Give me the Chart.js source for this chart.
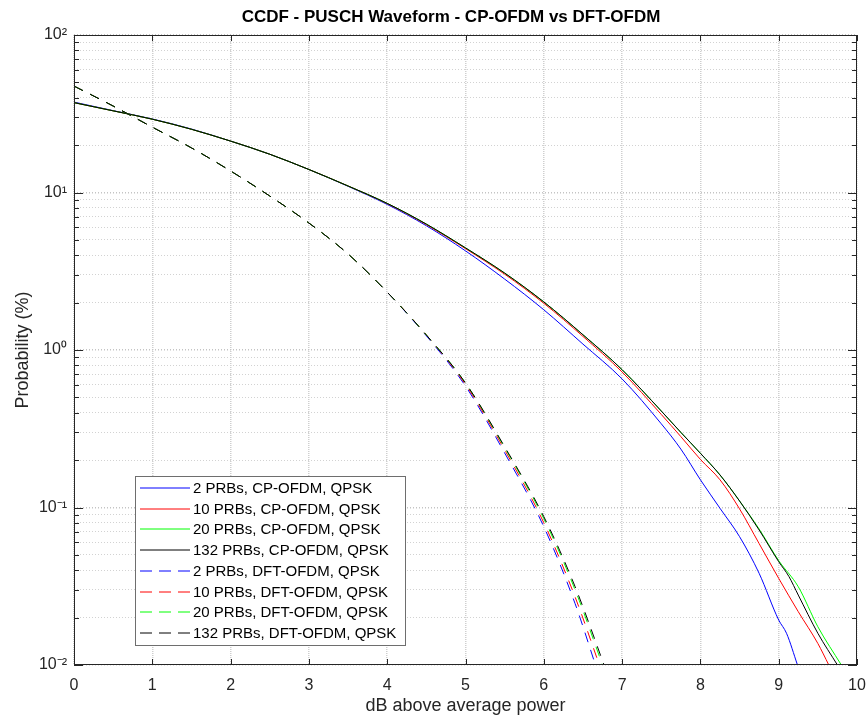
<!DOCTYPE html>
<html>
<head>
<meta charset="utf-8">
<script src="https://cdn.jsdelivr.net/npm/chart.js@4.4.1/dist/chart.umd.min.js"></script>
<style>
  html, body { margin: 0; padding: 0; background: #fff; }
  canvas { display: block; }
</style>
</head>
<body>
<canvas id="ccdfChart" width="868" height="718"></canvas>
<script>
// Valores (probabilidad en %)
const cp2X   = [0, 0.5, 1, 1.5, 2, 2.5, 3, 3.5, 4, 4.5, 5, 5.5, 6, 6.5, 7, 7.5, 7.75, 8, 8.25, 8.5, 8.75, 9, 9.1, 9.24];
const cp2Y   = [37.5, 33.1, 29.3, 25.3, 21.2, 17.5, 14.0, 10.95, 8.4, 6.15, 4.26, 2.82, 1.80, 1.09, 0.655, 0.34, 0.235, 0.150, 0.0989, 0.0653, 0.0382, 0.0193, 0.0159, 0.01];
const cp10X  = [0, 0.5, 1, 1.5, 2, 2.5, 3, 3.5, 4, 4.5, 5, 5.5, 6, 6.5, 7, 7.5, 7.75, 8, 8.25, 8.5, 8.75, 9, 9.25, 9.5, 9.64];
const cp10Y  = [37.2, 33.0, 29.2, 25.2, 21.2, 17.5, 14.0, 11.0, 8.5, 6.25, 4.4, 3.03, 1.98, 1.22, 0.725, 0.39, 0.282, 0.202, 0.150, 0.098, 0.059, 0.0355, 0.0218, 0.0137, 0.01];
const cp20X  = [0, 0.5, 1, 1.5, 2, 2.5, 3, 3.5, 4, 4.5, 5, 5.5, 6, 6.5, 7, 7.5, 7.75, 8, 8.25, 8.5, 8.75, 9, 9.25, 9.5, 9.8];
const cp20Y  = [37.2, 33.0, 29.2, 25.2, 21.2, 17.5, 14.0, 11.0, 8.53, 6.3, 4.45, 3.08, 2.02, 1.25, 0.75, 0.41, 0.30, 0.221, 0.161, 0.110, 0.073, 0.046, 0.0314, 0.0175, 0.01];
const cp132X = [0, 0.5, 1, 1.5, 2, 2.5, 3, 3.5, 4, 4.5, 5, 5.5, 6, 6.5, 7, 7.5, 7.75, 8, 8.25, 8.5, 8.75, 9, 9.13, 9.25, 9.5, 9.75];
const cp132Y = [37.2, 33.0, 29.2, 25.2, 21.2, 17.5, 14.0, 11.0, 8.53, 6.3, 4.45, 3.08, 2.02, 1.25, 0.75, 0.41, 0.30, 0.221, 0.161, 0.110, 0.072, 0.0453, 0.0365, 0.0278, 0.0159, 0.01];

const dft2X   = [0, 0.5, 1, 1.5, 2, 2.5, 3, 3.5, 4, 4.5, 5, 5.5, 6, 6.4, 6.66];
const dft2Y   = [47.4, 35.4, 26.0, 19.2, 13.7, 9.5, 6.40, 4.07, 2.33, 1.23, 0.59, 0.222, 0.0755, 0.0245, 0.01];
const dft10X  = [0, 0.5, 1, 1.5, 2, 2.5, 3, 3.5, 4, 4.5, 5, 5.5, 6, 6.4, 6.71];
const dft10Y  = [47.4, 35.4, 26.0, 19.2, 13.7, 9.5, 6.40, 4.07, 2.33, 1.245, 0.605, 0.232, 0.080, 0.027, 0.01];
const dft20X  = [0, 0.5, 1, 1.5, 2, 2.5, 3, 3.5, 4, 4.5, 5, 5.5, 6, 6.4, 6.75];
const dft20Y  = [47.4, 35.4, 26.0, 19.2, 13.7, 9.5, 6.40, 4.07, 2.33, 1.245, 0.617, 0.240, 0.085, 0.030, 0.01];
const dft132X = [0, 0.5, 1, 1.5, 2, 2.5, 3, 3.5, 4, 4.5, 5, 5.5, 6, 6.4, 6.77];
const dft132Y = [47.4, 35.4, 26.0, 19.2, 13.7, 9.5, 6.40, 4.07, 2.33, 1.245, 0.617, 0.243, 0.0875, 0.0314, 0.01];

const seriesLabels = [
    '2 PRBs, CP-OFDM, QPSK', '10 PRBs, CP-OFDM, QPSK', '20 PRBs, CP-OFDM, QPSK', '132 PRBs, CP-OFDM, QPSK',
    '2 PRBs, DFT-OFDM, QPSK', '10 PRBs, DFT-OFDM, QPSK', '20 PRBs, DFT-OFDM, QPSK', '132 PRBs, DFT-OFDM, QPSK'
];
const seriesColors = ['#0000ff', '#ff0000', '#00ff00', '#000000'];

const xTicks = [0, 1, 2, 3, 4, 5, 6, 7, 8, 9, 10];
const yDecades = [0.01, 0.1, 1, 10, 100];
const yDecadeLabels = ['10⁻²', '10⁻¹', '10⁰', '10¹', '10²'];

const chartTitle = 'CCDF - PUSCH Waveform - CP-OFDM vs DFT-OFDM';
const FONT = '"Liberation Sans", Arial, Helvetica, sans-serif';
const AXIS_COLOR = '#262626';

// ticks del eje log: 1..9 por década
const yTicks = [];
yDecades.forEach((d, i) => {
    if (i === yDecades.length - 1) { yTicks.push(d); return; }
    for (let m = 1; m <= 9; m++) yTicks.push(Number((m * d).toPrecision(3)));
});

function isDecade(v) {
    const l = Math.log10(v);
    return Math.abs(l - Math.round(l)) < 1e-9;
}

function toPoints(xs, ys) {
    return xs.map((x, i) => ({ x: x, y: ys[i] }));
}

const allSeries = [
    [cp2X, cp2Y], [cp10X, cp10Y], [cp20X, cp20Y], [cp132X, cp132Y],
    [dft2X, dft2Y], [dft10X, dft10Y], [dft20X, dft20Y], [dft132X, dft132Y]
];

const datasets = allSeries.map((s, i) => ({
    label: seriesLabels[i],
    data: toPoints(s[0], s[1]),
    borderColor: seriesColors[i % 4],
    backgroundColor: seriesColors[i % 4],
    borderWidth: 1,
    borderDash: i >= 4 ? [10, 8] : [],
    pointRadius: 0,
    cubicInterpolationMode: 'monotone',
    fill: false,
    order: allSeries.length - i
}));

// Caja de ejes con marcas hacia dentro (estilo MATLAB)
const framePlugin = {
    id: 'frame',
    afterDatasetsDraw(chart) {
        const { ctx, chartArea: a, scales: { x, y } } = chart;
        ctx.save();
        ctx.strokeStyle = AXIS_COLOR;
        ctx.lineWidth = 1;
        ctx.beginPath();
        x.ticks.forEach(t => {
            const px = Math.round(x.getPixelForValue(t.value)) + 0.5;
            ctx.moveTo(px, a.bottom); ctx.lineTo(px, a.bottom - 6);
            ctx.moveTo(px, a.top); ctx.lineTo(px, a.top + 6);
        });
        y.ticks.forEach(t => {
            const py = Math.round(y.getPixelForValue(t.value)) + 0.5;
            const len = isDecade(t.value) ? 9 : 5;
            ctx.moveTo(a.left, py); ctx.lineTo(a.left + len, py);
            ctx.moveTo(a.right, py); ctx.lineTo(a.right - len, py);
        });
        ctx.stroke();
        ctx.strokeRect(Math.round(a.left) + 0.5, Math.round(a.top) + 0.5, Math.round(a.width) - 1, Math.round(a.height) - 1);
        ctx.restore();
    }
};

// Título y leyenda dibujados a mano
const legendPlugin = {
    id: 'insideLegend',
    afterDraw(chart) {
        const { ctx } = chart;
        ctx.save();
        ctx.font = 'bold 17px ' + FONT;
        ctx.fillStyle = '#000';
        ctx.textAlign = 'center';
        ctx.textBaseline = 'middle';
        ctx.fillText(chartTitle, 451, 17);

        const left = 135, top = 476, w = 270, rowH = 20.7;
        const n = chart.data.datasets.length;
        const h = Math.round(rowH * n + 3);
        ctx.fillStyle = '#fff';
        ctx.fillRect(left, top, w, h);
        ctx.strokeStyle = '#6e6e6e';
        ctx.lineWidth = 1;
        ctx.strokeRect(left + 0.5, top + 0.5, w, h);
        ctx.font = '15px ' + FONT;
        ctx.textAlign = 'left';
        chart.data.datasets.forEach((ds, i) => {
            const yy = Math.round(top + 12 + i * rowH);
            ctx.strokeStyle = ds.borderColor;
            ctx.setLineDash(ds.borderDash.length ? [12, 7] : []);
            ctx.beginPath();
            ctx.moveTo(left + 5, yy);
            ctx.lineTo(left + 55, yy);
            ctx.stroke();
            ctx.setLineDash([]);
            ctx.fillStyle = '#000';
            ctx.fillText(ds.label, left + 58, yy + 1);
        });
        ctx.restore();
    }
};

const ctx = document.getElementById('ccdfChart').getContext('2d');
const ccdfChart = new Chart(ctx, {
    type: 'line',
    data: { datasets: datasets },
    options: {
        responsive: false,
        animation: false,
        events: [],
        layout: { padding: { top: 35, right: 11, bottom: 0, left: 0 } },
        plugins: {
            legend: { display: false },
            tooltip: { enabled: false },
            title: { display: false }
        },
        scales: {
            x: {
                type: 'linear',
                min: 0,
                max: 10,
                afterBuildTicks: s => { s.ticks = xTicks.map(v => ({ value: v })); },
                ticks: {
                    color: AXIS_COLOR,
                    font: { family: FONT, size: 16 },
                    padding: 11,
                    maxRotation: 0,
                    autoSkip: false
                },
                grid: { color: '#cfcfcf', lineWidth: 1.5, drawTicks: false },
                border: { display: false, dash: [1, 1] },
                title: {
                    display: true,
                    text: 'dB above average power',
                    color: AXIS_COLOR,
                    font: { family: FONT, size: 18 },
                    padding: { top: 0, bottom: 1 }
                },
                afterFit: s => { s.height = 53; s.paddingLeft = 0; s.paddingRight = 0; }
            },
            y: {
                type: 'logarithmic',
                min: 0.01,
                max: 100,
                afterBuildTicks: s => { s.ticks = yTicks.map(v => ({ value: v, major: isDecade(v) })); },
                ticks: {
                    color: AXIS_COLOR,
                    font: { family: FONT, size: 16 },
                    padding: 7,
                    autoSkip: false,
                    callback: v => {
                        const i = yDecades.findIndex(d => Math.abs(d - v) < d * 1e-6);
                        return i >= 0 ? yDecadeLabels[i] : '';
                    }
                },
                grid: {
                    color: c => (c.tick && isDecade(c.tick.value)) ? '#c4c4c4' : '#d2d2d2',
                    lineWidth: c => (c.tick && isDecade(c.tick.value)) ? 1.5 : 1,
                    drawTicks: false
                },
                border: { display: false, dash: [1, 2] },
                title: {
                    display: true,
                    text: 'Probability (%)',
                    color: AXIS_COLOR,
                    font: { family: FONT, size: 18 },
                    padding: { top: 12, bottom: 0 }
                },
                afterFit: s => { s.width = 74; s.paddingTop = 0; s.paddingBottom = 0; }
            }
        }
    },
    plugins: [framePlugin, legendPlugin]
});
</script>
</body>
</html>
